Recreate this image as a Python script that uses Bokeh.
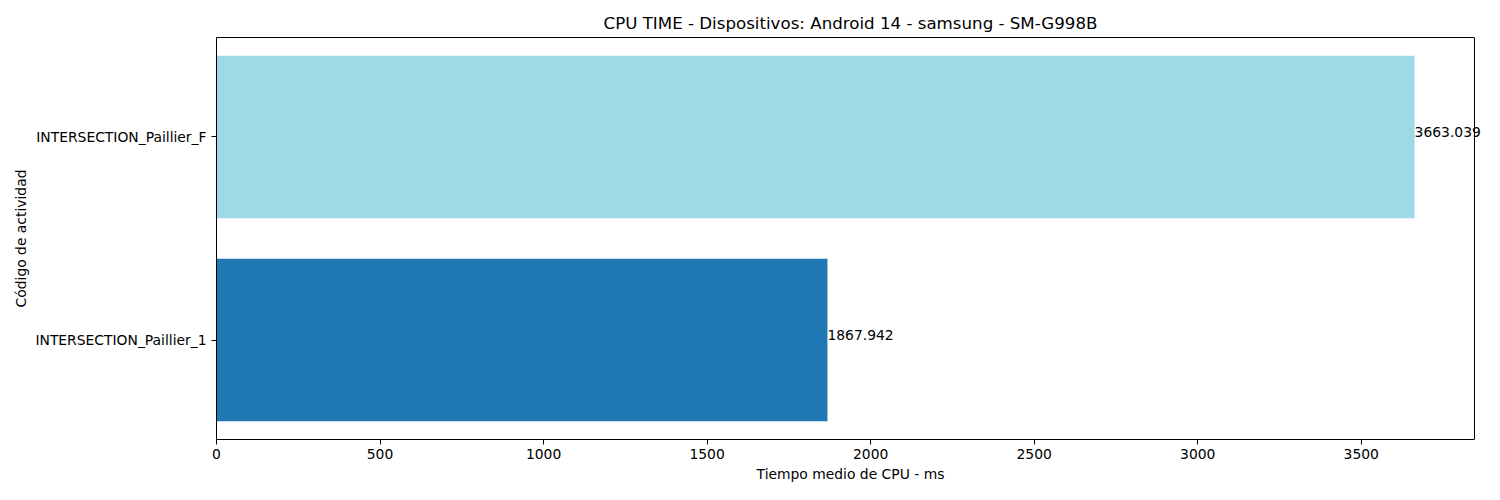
from bokeh.plotting import figure
from bokeh.models import ColumnDataSource, FactorRange, Range1d, FixedTicker, LabelSet, Span, LinearAxis
from bokeh.core.properties import value
from bokeh.embed import file_html
from bokeh.resources import INLINE

categories = ["INTERSECTION_Paillier_1", "INTERSECTION_Paillier_F"]
values = [1867.942, 3663.039]
colors = ["#1f77b4", "#9edae5"]
labels = ["1867.942", "3663.039"]
x_ticks = [0, 500, 1000, 1500, 2000, 2500, 3000, 3500]

FONT = "DejaVu Sans"
FS = "13.89px"
W, H = 1484, 484
LEFT, RIGHT_SPINE = 216, 1474

xmax = max(values) * 1.05
# extend frame to the figure edge so the value labels are not clipped
xend = xmax * (W - LEFT) / (RIGHT_SPINE - LEFT)

src = ColumnDataSource(dict(cat=categories, val=values, color=colors, lab=labels))

p = figure(
    width=W, height=H,
    y_range=FactorRange(factors=categories, range_padding=-0.01),
    x_range=Range1d(0, xend),
    output_backend="svg", toolbar_location=None,
    title="CPU TIME - Dispositivos: Android 14 - samsung - SM-G998B",
)
p.min_border_left = LEFT
p.min_border_right = 0
p.min_border_top = 37
p.min_border_bottom = 42

p.hbar(y="cat", right="val", left=0, height=0.8, color="color", source=src, line_color=None)

lbl = LabelSet(x="val", y="cat", text="lab", source=src, text_font=value(FONT),
               text_font_size=FS, text_baseline="alphabetic", text_align="left",
               text_color="black")
p.add_layout(lbl)

p.title.align = "center"
p.title.text_font = FONT
p.title.text_font_size = "16.67px"
p.title.text_font_style = "normal"
p.title.text_color = "black"

p.xgrid.visible = False
p.ygrid.visible = False
p.outline_line_color = None

# spines: top (axis above, no ticks), right (span at xmax)
top_axis = LinearAxis(bounds=(0, xmax), ticker=FixedTicker(ticks=[], minor_ticks=[]),
                      major_tick_in=0, major_tick_out=0, minor_tick_in=0, minor_tick_out=0,
                      axis_line_color="black", major_label_standoff=0)
p.add_layout(top_axis, "above")
p.add_layout(Span(location=xmax, dimension="height", line_color="black", line_width=1))

xa = p.below[0]
ya = p.left[0]
xa.ticker = FixedTicker(ticks=x_ticks)
xa.bounds = (0, xmax)
xa.axis_label = "Tiempo medio de CPU - ms"
ya.axis_label = "Código de actividad"
for ax in (xa, ya):
    ax.axis_label_text_font = FONT
    ax.axis_label_text_font_size = FS
    ax.axis_label_text_font_style = "normal"
    ax.axis_label_text_color = "black"
    ax.major_label_text_font = FONT
    ax.major_label_text_font_size = FS
    ax.major_label_text_color = "black"
    ax.major_tick_in = 0
    ax.major_tick_out = 5
    ax.minor_tick_in = 0
    ax.minor_tick_out = 0
    ax.axis_line_color = "black"
    ax.major_tick_line_color = "black"
xa.major_label_standoff = 4
xa.axis_label_standoff = 4
ya.major_label_standoff = 5
ya.axis_label_standoff = 3

open("out.html", "w").write(file_html(p, INLINE))
